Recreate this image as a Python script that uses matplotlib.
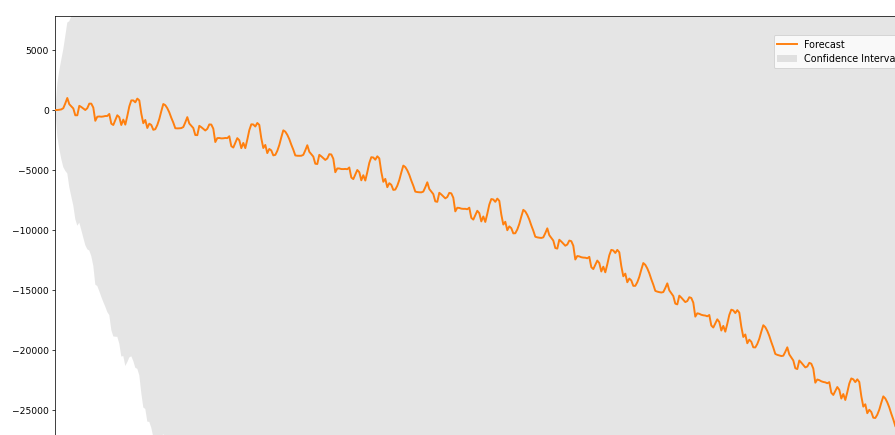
import matplotlib
matplotlib.use("Agg")
import matplotlib.pyplot as plt
from matplotlib.ticker import MultipleLocator

# Point forecast, one value per horizon step
forecast = [
    0, 0, 20, 50, 150, 550, 1000, 480, 300, 130, -440, -440, 350, 250, 120, 0, 150, 530, 530, 200,
    -900, -560, -540, -560, -540, -500, -500, -330, -1140, -1250, -850, -440, -600, -1250, -800, -1220, -500, 300, 800, 800,
    640, 950, 800, -300, -1100, -830, -1500, -1140, -1250, -1650, -1600, -1250, -750, -100, 500, 400, 150, -200, -650, -1050,
    -1520, -1532, -1525, -1507, -1420, -1032, -595, -1127, -1320, -1502, -2085, -2097, -1319, -1432, -1574, -1707, -1569, -1202, -1214, -1557,
    -2669, -2342, -2334, -2366, -2359, -2331, -2344, -2186, -3009, -3131, -2744, -2346, -2519, -3181, -2744, -3176, -2468, -1681, -1193, -1206,
    -1378, -1081, -1243, -2356, -3168, -2911, -3593, -3245, -3368, -3780, -3743, -3405, -2918, -2280, -1693, -1805, -2068, -2430, -2892, -3305,
    -3787, -3812, -3817, -3812, -3737, -3362, -2936, -3481, -3686, -3881, -4476, -4501, -3736, -3861, -4016, -4161, -4036, -3681, -3705, -4060,
    -5185, -4870, -4875, -4920, -4925, -4910, -4935, -4790, -5625, -5759, -5384, -4999, -5184, -5859, -5434, -5879, -5184, -4409, -3934, -3959,
    -4144, -3858, -4033, -5158, -5983, -5738, -6433, -6098, -6233, -6658, -6633, -6308, -5832, -5207, -4632, -4757, -5032, -5407, -5882, -6307,
    -6801, -6838, -6856, -6863, -6800, -6438, -6025, -6583, -6800, -7007, -7615, -7652, -6899, -7037, -7204, -7362, -7249, -6906, -6944, -7311,
    -8448, -8146, -8163, -8220, -8238, -8235, -8273, -8140, -8987, -9135, -8772, -8399, -8597, -9284, -8872, -9329, -8646, -7884, -7421, -7458,
    -7656, -7383, -7570, -8708, -9545, -9313, -10020, -9697, -9845, -10282, -10269, -9957, -9494, -8882, -8319, -8456, -8744, -9131, -9618, -10056,
    -10563, -10613, -10643, -10662, -10612, -10262, -9862, -10432, -10662, -10881, -11501, -11551, -10811, -10961, -11140, -11310, -11210, -10880, -10930, -11310,
    -12459, -12169, -12199, -12269, -12299, -12309, -12358, -12238, -13098, -13258, -12908, -12548, -12757, -13457, -13057, -13527, -12857, -12106, -11656, -11706,
    -11916, -11656, -11856, -13005, -13855, -13635, -14355, -14045, -14205, -14654, -14654, -14354, -13904, -13304, -12754, -12903, -13203, -13603, -14103, -14553,
    -15073, -15135, -15178, -15210, -15172, -14834, -14447, -15029, -15271, -15504, -16136, -16198, -15470, -15633, -15825, -16007, -15920, -15602, -15664, -16056,
    -17219, -16941, -16983, -17065, -17108, -17130, -17192, -17085, -17957, -18129, -17791, -17444, -17666, -18378, -17991, -18473, -17815, -17077, -16640, -16702,
    -16924, -16676, -16889, -18051, -18913, -18706, -19438, -19140, -19312, -19775, -19787, -19499, -19062, -18474, -17936, -18098, -18411, -18823, -19335, -19797,
    -20329, -20404, -20458, -20503, -20478, -20153, -19777, -20372, -20627, -20872, -21516, -21591, -20876, -21051, -21255, -21450, -21375, -21070, -21144, -21549,
    -22724, -22458, -22513, -22608, -22663, -22697, -22772, -22677, -23562, -23746, -23421, -23086, -23321, -24045, -23670, -24165, -23519, -22794, -22369, -22444,
    -22678, -22443, -22668, -23843, -24717, -24522, -25267, -24982, -25166, -25641, -25666, -25391, -24965, -24390, -23865, -24039, -24364, -24789, -25314, -25788,
    -26333,
]

# Confidence band, given on its own (coarser after the first season) step grid
ci_steps = list(range(61)) + list(range(90, 421, 30))
ci_lower = [
    0, -2220, -3260, -4099, -4770, -5077, -5290, -6438, -7220, -7970, -9101, -9647, -9389, -10009, -10648, -11268,
    -11610, -11713, -12190, -12990, -14554, -14673, -15107, -15575, -15999, -16400, -16836, -17098, -18337, -18872,
    -18894, -18904, -19480, -20544, -20505, -21333, -21019, -20623, -20525, -20925, -21482, -21568, -22111, -23603,
    -24793, -24912, -25968, -25994, -26487, -27269, -27600, -27629, -27507, -27234, -27009, -27483, -28106, -28828,
    -29648, -30418, -31256,
    -43127, -54276, -65633, -76564, -87863, -98835, -110241, -121366, -132957, -144295, -156120, -167709,
]
ci_upper = [
    0, 2220, 3300, 4199, 5070, 6177, 7290, 7398, 7820, 8230, 8221, 8767, 10089, 10509, 10888, 11268,
    11910, 12773, 13250, 13390, 12754, 13553, 14027, 14455, 14919, 15400, 15836, 16438, 16057, 16372,
    17194, 18024, 18280, 18044, 18905, 18893, 20019, 21223, 22125, 22525, 22762, 23468, 23711, 23003,
    22593, 23252, 22968, 23714, 23987, 23969, 24400, 25129, 26007, 27034, 28009, 28283, 28406, 28428,
    28348, 28318, 28216,
    37639, 46702, 54865, 62962, 70319, 77709, 84425, 91220, 97375, 103637, 109278, 115043,
]

DPI = 66
W, H = 895.3, 435.3
fig = plt.figure(figsize=(W / DPI, H / DPI), dpi=DPI)
fig.patch.set_facecolor("white")

# Plot area in pixels; it continues past the right and bottom edges of the canvas
left_px, top_px, right_px, bottom_px = 55.3, 16.3, 900.6, 470.0
ax = fig.add_axes([left_px / W, 1 - bottom_px / H,
                   (right_px - left_px) / W, (bottom_px - top_px) / H])

steps = list(range(len(forecast)))
ax.plot(steps, forecast, color="#ff7f0e", linewidth=2.1, label="Forecast", zorder=3)
ax.fill_between(ci_steps, ci_lower, ci_upper, color="gray", alpha=0.2,
                linewidth=0, label="Confidence Interval", zorder=2)

zero_px = 110.3
px_per_unit = 12.0 / 1000.0
ax.set_ylim((zero_px - bottom_px) / px_per_unit, (zero_px - top_px) / px_per_unit)
ax.set_xlim(0, (right_px - left_px) / 2.0)
ax.yaxis.set_major_locator(MultipleLocator(5000))

ax.legend(loc="upper left", bbox_to_anchor=(773.5 / W, 1 - 35.7 / H),
          bbox_transform=fig.transFigure, borderaxespad=0, fontsize=10.5)

fig.savefig("out.png", dpi=DPI)
